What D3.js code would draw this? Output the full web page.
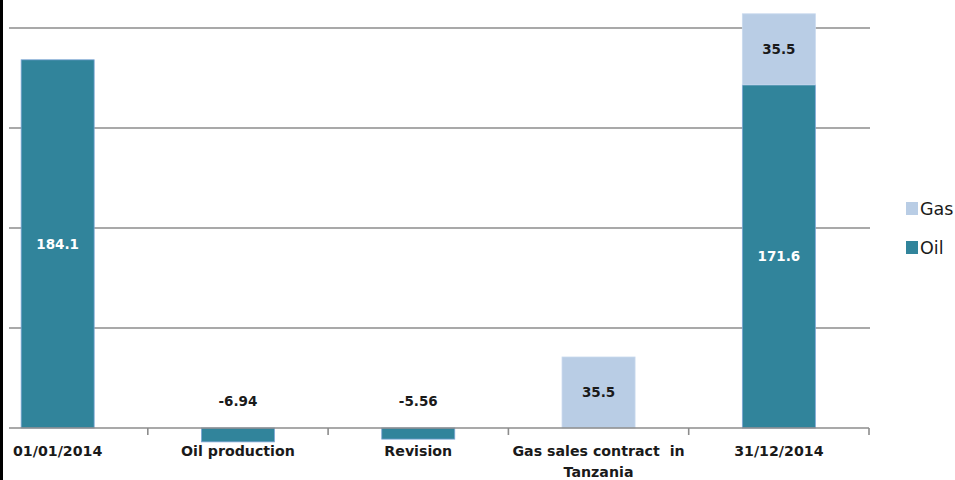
<!DOCTYPE html>
<html>
<head>
<meta charset="utf-8">
<script src="https://cdn.jsdelivr.net/npm/d3@7"></script>
<style>
    body { margin: 0; background: #fff; }
    svg { display: block; }
    text { font-family: "DejaVu Sans", Verdana, sans-serif; }
</style>
</head>
<body>
<div id="chart"></div>
<script>
// chart data
const categories = ["01/01/2014", "Oil production", "Revision", "Gas sales contract  in|Tanzania", "31/12/2014"];
const oilValues = [184.1, -6.94, -5.56, 0, 171.6];
const gasValues = [0, 0, 0, 35.5, 35.5];
const yTicks = [0, 50, 100, 150, 200];
const seriesNames = ["Oil", "Gas"];
const colors = { Oil: "#31849b", Gas: "#b9cde5" };

const W = 955, H = 480;
const plotLeft = 9, plotRight = 870;

const svg = d3.select("#chart")
    .append("svg")
    .attr("width", W)
    .attr("height", H);

// the reference is cropped on the left: the first band starts off-screen
const x = d3.scaleBand()
    .domain(categories)
    .range([-32.5, 869])
    .paddingInner(0.595)
    .paddingOuter(0.2975);

const xEdge = d3.scaleBand()
    .domain(categories)
    .range([-32.5, 869])
    .padding(0);

const y = d3.scaleLinear()
    .domain([0, 200])
    .range([428, 28]);

// gridlines
svg.append("g")
    .selectAll("line")
    .data(yTicks.filter(d => d > 0))
    .join("line")
    .attr("x1", plotLeft)
    .attr("x2", plotRight)
    .attr("y1", d => y(d))
    .attr("y2", d => y(d))
    .attr("stroke", "#8c8c8c")
    .attr("stroke-width", 1.6);

// stacked bars
const rows = categories.map((c, i) => ({ cat: c, Oil: oilValues[i], Gas: gasValues[i] }));
const stacked = d3.stack()
    .keys(seriesNames)
    .offset(d3.stackOffsetDiverging)(rows);

const layers = svg.append("g")
    .selectAll("g")
    .data(stacked)
    .join("g")
    .attr("fill", d => colors[d.key]);

layers.selectAll("rect")
    .data(d => d.map(p => ({ key: d.key, cat: p.data.cat, y0: p[0], y1: p[1], value: p.data[d.key] })))
    .join("rect")
    .filter(d => d.value !== 0)
    .attr("x", d => x(d.cat))
    .attr("width", x.bandwidth())
    .attr("y", d => y(Math.max(d.y0, d.y1)))
    .attr("height", d => Math.abs(y(d.y0) - y(d.y1)))
    .attr("stroke", d => d.key === "Oil" ? "#7ea6d6" : "#c9d9ee")
    .attr("stroke-width", 0.8);

// value labels
const labels = [];
stacked.forEach(layer => {
    layer.forEach(p => {
        const v = p.data[layer.key];
        if (v === 0) return;
        const yc = v > 0 ? (y(p[0]) + y(p[1])) / 2 : y(0) - 27;
        labels.push({ key: layer.key, cat: p.data.cat, v: v, yc: yc });
    });
});

svg.append("g")
    .selectAll("text")
    .data(labels)
    .join("text")
    .attr("x", d => x(d.cat) + x.bandwidth() / 2)
    .attr("y", d => d.yc)
    .attr("dy", "0.35em")
    .attr("text-anchor", "middle")
    .attr("font-size", "13.5px")
    .attr("font-weight", "bold")
    .attr("fill", d => d.key === "Oil" && d.v > 0 ? "#ffffff" : "#1a1a1a")
    .text(d => d.v);

// x axis line and ticks
const axis = svg.append("g");
axis.append("line")
    .attr("x1", plotLeft)
    .attr("x2", 869)
    .attr("y1", y(0))
    .attr("y2", y(0))
    .attr("stroke", "#8c8c8c")
    .attr("stroke-width", 1.6);

axis.selectAll(".tick")
    .data(categories)
    .join("line")
    .attr("class", "tick")
    .attr("x1", d => xEdge(d) + xEdge.bandwidth())
    .attr("x2", d => xEdge(d) + xEdge.bandwidth())
    .attr("y1", y(0))
    .attr("y2", y(0) + 7)
    .attr("stroke", "#8c8c8c")
    .attr("stroke-width", 1.6);

// category labels
const catLabels = axis.selectAll(".cat")
    .data(categories)
    .join("text")
    .attr("class", "cat")
    .attr("text-anchor", "middle")
    .attr("font-size", "14.2px")
    .attr("font-weight", "bold")
    .attr("fill", "#1a1a1a");

catLabels.each(function (d) {
    const parts = d.split("|");
    const cx = x(d) + x.bandwidth() / 2;
    d3.select(this).selectAll("tspan")
        .data(parts)
        .join("tspan")
        .attr("x", cx)
        .attr("y", (p, i) => 456 + i * 21)
        .attr("xml:space", "preserve")
        .text(p => p);
});

// legend
const legend = svg.append("g");
const legendItems = ["Gas", "Oil"];
legendItems.forEach((name, i) => {
    const ly = 202 + i * 39;
    legend.append("rect")
        .attr("x", 906)
        .attr("y", ly)
        .attr("width", 12)
        .attr("height", 13)
        .attr("fill", colors[name]);
    legend.append("text")
        .attr("x", 920)
        .attr("y", ly + 6.5)
        .attr("dy", "0.35em")
        .attr("font-size", "17.5px")
        .attr("fill", "#1a1a1a")
        .text(name);
});

// left border of the cropped frame
svg.append("rect")
    .attr("x", 0)
    .attr("y", 0)
    .attr("width", 3)
    .attr("height", H)
    .attr("fill", "#000");
</script>
</body>
</html>
